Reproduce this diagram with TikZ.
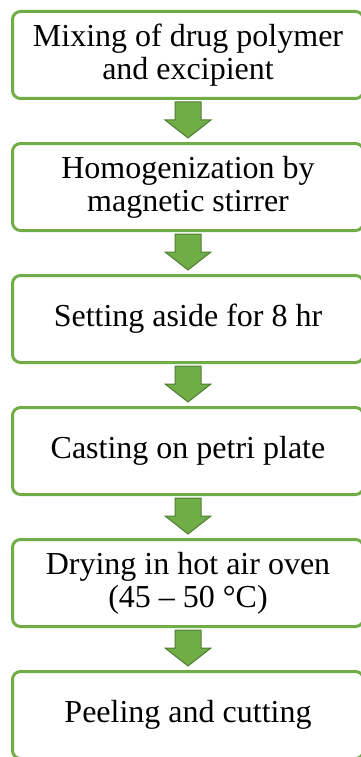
\documentclass[tikz,border=0pt]{standalone}
\usepackage{fontspec}
\setmainfont{Liberation Serif}
\usetikzlibrary{positioning,calc}

\definecolor{leaf}{HTML}{70AD47}
\definecolor{leafdark}{HTML}{507E32}

\tikzset{
    stepbox/.style={draw=leaf, line width=3pt, fill=white, rounded corners=8pt,
        minimum width=351pt, minimum height=87pt, inner sep=0pt, align=center,
        font=\fontsize{32}{33}\selectfont},
    fatarrow/.style={fill=leaf, draw=leafdark, line width=1pt, line join=miter}
}

\begin{document}
\begin{tikzpicture}[x=1pt,y=1pt]
        \def \g {42pt}

        \useasboundingbox (0,0) rectangle (360,-757);

        \node[stepbox] (mix) at (188,-55) {Mixing of drug polymer\\and excipient};
        \node[stepbox, below=\g of mix] (homo) {Homogenization by\\magnetic stirrer};
        \node[stepbox, below=\g of homo] (rest) {Setting aside for 8 hr};
        \node[stepbox, below=\g of rest] (cast) {Casting on petri plate};
        \node[stepbox, below=\g of cast] (dry) {Drying in hot air oven\\(45 – 50 °C)};
        \node[stepbox, below=\g of dry] (peel) {Peeling and cutting};

        \foreach \p/\q in {mix/homo, homo/rest, rest/cast, cast/dry, dry/peel}
            \draw[fatarrow] ($(\p.south)+(-13,-2)$) -- ($(\p.south)+(13,-2)$)
                -- ($(\q.north)+(13,22)$) -- ($(\q.north)+(23,22)$)
                -- ($(\q.north)+(0,4)$) -- ($(\q.north)+(-23,22)$)
                -- ($(\q.north)+(-13,22)$) -- cycle;
    \end{tikzpicture}
\end{document}
